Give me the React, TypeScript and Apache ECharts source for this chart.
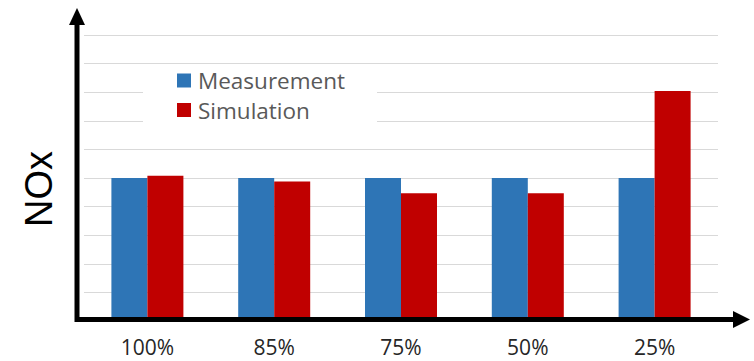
import React, { useEffect, useRef } from "react";
import * as echarts from "echarts";

const categories = ["100%", "85%", "75%", "50%", "25%"];
const measurement = [5, 5, 5, 5, 5];
const simulation = [5.08, 4.88, 4.47, 4.47, 8.04];
const yMin = 0;
const yMax = 10;
const yStep = 1;

export default function App() {
  const ref = useRef<HTMLDivElement>(null);

  useEffect(() => {
    document.body.style.margin = "0";
    if (!ref.current) return;
    const chart = echarts.init(ref.current, undefined, { renderer: "svg" });
    const axisColor = "#000";
    chart.setOption({
      animation: false,
      backgroundColor: "#fff",
      grid: { left: 84, right: 36, top: 35, bottom: 40 },
      legend: {
        orient: "vertical",
        left: 143,
        top: 65,
        padding: [4, 32, 8, 34],
        backgroundColor: "#fff",
        itemWidth: 14,
        itemHeight: 14,
        itemGap: 6.5,
        icon: "rect",
        textStyle: {
          fontFamily: "Open Sans",
          fontSize: 22.5,
          lineHeight: 22,
          color: "#595959",
          padding: [0, 0, 0, 2],
        },
        data: ["Measurement", "Simulation"],
      },
      xAxis: {
        type: "category",
        data: categories,
        axisLine: { show: false },
        axisTick: { show: false },
        axisLabel: {
          fontFamily: "Open Sans",
          fontSize: 21,
          lineHeight: 18,
          color: "#262626",
          margin: 17,
        },
      },
      yAxis: {
        type: "value",
        min: yMin,
        max: yMax,
        interval: yStep,
        axisLine: { show: false },
        axisTick: { show: false },
        axisLabel: { show: false },
        splitLine: { lineStyle: { color: "#d9d9d9", width: 1 } },
      },
      series: [
        {
          name: "Measurement",
          type: "bar",
          data: measurement,
          barWidth: 36,
          barGap: "0%",
          itemStyle: { color: "#2E75B6" },
        },
        {
          name: "Simulation",
          type: "bar",
          data: simulation,
          barWidth: 36,
          itemStyle: { color: "#C00000" },
        },
      ],
      graphic: [
        {
          type: "line",
          z: 100,
          shape: { x1: 77, y1: 322, x2: 77, y2: 22 },
          style: { stroke: axisColor, lineWidth: 5 },
        },
        {
          type: "polygon",
          z: 100,
          shape: { points: [[69, 25], [85, 25], [77, 8]] },
          style: { fill: axisColor },
        },
        {
          type: "line",
          z: 100,
          shape: { x1: 75, y1: 319.5, x2: 736, y2: 319.5 },
          style: { stroke: axisColor, lineWidth: 5 },
        },
        {
          type: "polygon",
          z: 100,
          shape: { points: [[733, 311], [733, 328], [750, 319.5]] },
          style: { fill: axisColor },
        },
        {
          type: "text",
          z: 100,
          x: 39,
          y: 189,
          rotation: Math.PI / 2,
          style: {
            text: "NOx",
            fontFamily: "Liberation Sans",
            fontSize: 38,
            fill: "#000",
            align: "center",
            verticalAlign: "middle",
          },
        },
      ],
    });
    return () => chart.dispose();
  }, []);

  return <div ref={ref} style={{ width: 754, height: 361 }} />;
}
